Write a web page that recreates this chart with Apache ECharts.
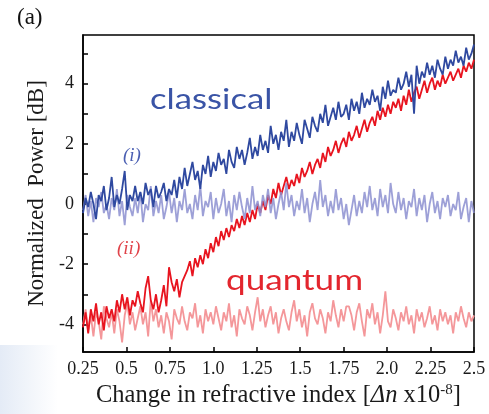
<!DOCTYPE html>
<html><head><meta charset="utf-8">
<script src="https://cdn.jsdelivr.net/npm/echarts@6/dist/echarts.min.js"></script>
<style>html,body{margin:0;padding:0;background:#fff}#c{width:489px;height:414px}</style>
</head><body><div id="c"></div>
<script>
// x sampling: Δn from 0.25 to 2.5 (x10^-8)
const xStart = 0.25, xStep = 0.015;
const xTicks = [0.25,0.5,0.75,1.0,1.25,1.5,1.75,2.0,2.25,2.5];
const yTickLabels = [-4,-2,0,2,4];
const yMinorTicks = [-4,-3,-2,-1,0,1,2,3,4,5];

// (i) classical signal, dark blue
const classicalSignal = [
-0.3,0.2,-0.1,0.4,0.0,-0.5,0.3,0.1,0.6,-0.2,
0.2,0.9,-0.1,0.3,0.0,0.5,1.1,-0.2,0.3,0.1,
0.6,0.1,0.4,0.0,0.7,0.3,0.5,-0.1,0.6,0.2,
0.4,0.7,0.1,0.5,0.3,0.8,0.2,0.9,0.5,1.2,
0.6,1.0,1.4,0.8,1.1,0.5,1.3,1.0,1.6,0.9,
1.4,1.1,1.7,1.3,1.5,1.0,1.8,1.4,1.2,1.9,
1.5,1.8,1.3,1.7,2.2,1.5,1.9,1.6,2.3,1.8,
2.1,1.7,2.6,2.0,2.3,1.8,2.4,2.1,2.8,1.9,
2.4,2.1,2.7,2.3,2.0,2.8,2.5,2.2,2.9,2.6,
2.4,3.0,2.7,3.3,2.6,2.9,3.2,2.8,3.4,2.9,
3.0,3.3,2.8,3.5,3.1,3.4,3.0,3.7,3.2,3.5,
3.3,3.8,3.4,3.6,3.1,3.9,3.5,4.1,3.6,3.8,
3.7,4.2,3.8,4.0,4.4,3.9,4.3,3.0,4.6,4.0,
4.4,4.2,4.7,4.3,4.6,4.2,4.8,4.5,4.3,4.9,
4.5,4.8,4.6,5.1,4.7,4.9,4.6,5.2,4.8,5.0,5.3
];
// classical reference, light blue
const classicalRef = [
-0.2,0.3,-0.4,0.1,-0.6,0.2,-0.1,0.4,-0.3,0.0,
-0.5,0.2,-0.2,0.5,-0.4,0.1,-0.7,0.3,-0.1,-0.4,
0.2,-0.3,0.4,-0.6,0.0,-0.2,0.6,-0.4,0.1,-0.3,
0.3,-0.5,-0.1,0.4,-0.3,0.2,-0.6,0.1,-0.2,0.5,
-0.3,0.0,-0.5,0.3,-0.2,0.6,-0.4,0.1,-0.1,0.4,
-0.5,0.2,-0.3,0.0,0.5,-0.4,0.1,-0.6,0.3,-0.2,
0.4,-0.1,-0.5,0.2,-0.3,0.6,-0.2,0.1,-0.4,0.3,
-0.1,0.5,-0.3,0.2,-0.5,0.0,0.4,-0.2,0.7,-0.1,
0.3,-0.4,0.1,-0.2,0.5,-0.3,0.2,-0.6,0.0,0.4,
-0.2,0.8,-0.1,0.3,-0.4,0.1,-0.3,0.5,-0.2,0.2,
-0.5,0.0,-0.7,-0.2,0.3,-0.4,0.1,-0.3,0.4,-0.1,
0.6,-0.2,0.2,-0.4,0.5,-0.1,0.3,-0.3,0.7,0.0,
-0.3,0.4,-0.2,0.2,-0.5,0.1,-0.1,0.5,-0.4,0.2,
-0.2,0.3,-0.6,0.0,0.4,-0.3,0.1,-0.5,0.2,-0.1,
0.3,-0.4,0.0,-0.2,0.4,-0.5,-0.1,0.2,-0.6,0.1,-0.3
];
// (ii) quantum signal, red
const quantumSignal = [
-4.1,-3.6,-4.3,-3.5,-3.9,-3.3,-4.0,-3.6,-4.2,-3.4,
-3.8,-3.5,-3.9,-3.2,-3.6,-3.0,-3.5,-3.1,-3.7,-3.2,
-3.4,-2.9,-3.3,-3.6,-2.8,-2.4,-3.2,-3.5,-3.0,-3.6,
-3.2,-2.7,-3.4,-2.1,-2.6,-2.9,-2.5,-3.1,-2.6,-2.4,
-2.2,-1.9,-2.4,-1.8,-2.1,-1.7,-2.0,-1.5,-1.8,-1.3,
-1.6,-1.1,-1.4,-0.9,-1.2,-0.8,-1.1,-0.7,-0.9,-0.5,
-0.8,-0.4,-0.7,-0.3,-0.6,-0.2,-0.5,0.0,-0.3,0.1,
-0.2,0.3,0.0,0.5,0.2,0.7,0.3,0.6,0.9,0.5,
0.8,0.6,1.0,0.7,1.2,0.9,1.1,1.4,1.0,1.3,
1.5,1.2,1.7,1.4,1.9,1.6,1.8,2.1,1.7,2.0,
2.2,1.9,2.4,2.1,2.3,2.6,2.2,2.5,2.8,2.4,
2.7,2.9,2.6,3.1,2.8,3.2,2.9,3.3,3.0,3.4,
3.2,3.5,3.1,3.6,3.3,3.8,3.4,3.7,3.9,3.5,
3.8,4.1,3.7,4.0,4.2,3.8,4.1,3.9,4.3,4.0,
4.2,4.4,4.1,4.3,4.5,4.2,4.6,4.4,4.7,4.5,4.8
];
// quantum reference, light red
const quantumRef = [
-4.0,-3.5,-4.2,-3.7,-4.4,-3.6,-3.9,-4.5,-3.4,-3.8,
-4.1,-3.6,-4.3,-3.5,-3.9,-4.6,-3.7,-3.3,-4.0,-3.6,
-4.2,-3.8,-3.4,-4.0,-3.6,-4.4,-3.2,-3.9,-3.5,-4.1,
-3.7,-4.3,-3.6,-3.9,-4.5,-3.5,-3.8,-4.0,-3.4,-3.9,
-4.2,-3.6,-3.8,-3.3,-4.1,-3.7,-4.3,-3.5,-3.9,-3.6,
-4.0,-3.4,-3.8,-4.2,-3.6,-3.9,-3.3,-4.1,-3.7,-4.4,
-3.5,-3.8,-4.0,-3.4,-3.7,-4.2,-3.6,-3.1,-3.9,-3.5,
-4.1,-3.7,-3.4,-4.0,-3.6,-4.3,-3.8,-3.5,-3.9,-4.2,
-3.6,-3.2,-3.9,-3.5,-4.1,-3.7,-4.4,-3.6,-3.3,-3.8,
-4.0,-3.5,-3.8,-4.3,-3.6,-3.9,-3.2,-3.7,-4.1,-3.5,
-3.9,-3.4,-3.4,-3.7,-4.2,-3.6,-3.3,-3.9,-4.4,-3.5,
-3.8,-3.3,-4.0,-3.6,-4.3,-3.7,-2.9,-3.9,-4.1,-3.5,
-3.8,-4.2,-3.6,-3.9,-3.4,-4.0,-3.7,-4.3,-3.5,-3.9,
-3.6,-4.1,-3.8,-3.4,-4.0,-3.7,-4.2,-3.5,-3.9,-3.6,
-4.0,-3.7,-4.3,-3.6,-3.9,-3.4,-3.8,-4.1,-3.6,-3.9,-3.7
];

function pairs(vals){ return vals.map((v,i)=>[+(xStart+i*xStep).toFixed(3), v]); }

const serif = '"Liberation Serif", "DejaVu Serif", serif';
const chart = echarts.init(document.getElementById('c'), null, {renderer:'canvas'});
const lineS = (name, vals, color, z, opacity) => ({
  name, type:'line', data: pairs(vals), showSymbol:false, symbol:'none', z,
  lineStyle:{color, width:1.8, opacity: opacity==null?1:opacity}, animation:false
});
chart.setOption({
  animation:false,
  backgroundColor:'#ffffff',
  grid:{left:83, right:15, top:35, bottom:62, show:true, borderColor:'#000', borderWidth:1.5, backgroundColor:'transparent'},
  xAxis:{
    type:'value', min:0.25, max:2.5, interval:0.25,
    name:'Change in refractive index [{it|Δn} x10{sup|-8}]',
    nameLocation:'middle', nameGap:24,
    nameTextStyle:{fontFamily:serif, fontSize:24.5, color:'#1a1a1a',
      rich:{it:{fontFamily:serif, fontStyle:'italic', fontSize:24.5, color:'#1a1a1a'},
            sup:{fontFamily:serif, fontSize:15, color:'#1a1a1a', verticalAlign:'top', padding:[0,0,10,0]}}},
    axisLine:{show:true, onZero:false, lineStyle:{color:'#000', width:1.5}},
    axisTick:{show:true, inside:true, length:5, lineStyle:{color:'#000', width:1.5}},
    axisLabel:{fontFamily:serif, fontSize:18, color:'#1a1a1a', margin:8, showMinLabel:true, showMaxLabel:true,
      formatter:v=>{ const t = xTicks.find(k=>Math.abs(k-v)<1e-6); if(t===undefined) return ''; return Number.isInteger(t)? t.toFixed(1) : String(t);} },
    splitLine:{show:false}
  },
  yAxis:{
    type:'value', min:-4.92, max:5.62,
    name:'Normalized  Power [dB]', nameLocation:'middle', nameGap:31, nameRotate:90,
    nameTextStyle:{fontFamily:serif, fontSize:23, color:'#1a1a1a'},
    axisLine:{show:true, onZero:false, lineStyle:{color:'#000', width:1.5}},
    axisTick:{show:true, inside:true, length:5, customValues:yMinorTicks, lineStyle:{color:'#000', width:1.5}},
    axisLabel:{fontFamily:serif, fontSize:18, color:'#1a1a1a', margin:9, customValues:yTickLabels},
    splitLine:{show:false}
  },
  graphic:[
    {type:'rect', left:0, top:345, z:-10, shape:{width:58, height:69},
      style:{fill:new echarts.graphic.LinearGradient(0,0,1,0,[{offset:0,color:'#e4ebf6'},{offset:1,color:'#ffffff'}])}},
    {type:'text', x:17, y:6, style:{text:'(a)', font:'23px "Liberation Serif"', fill:'#111', textVerticalAlign:'top', verticalAlign:'top'}},
    {type:'text', x:150, y:86, scaleX:1.24, style:{text:'classical', font:'28px Lato', fill:'#3a54a6', textVerticalAlign:'top', verticalAlign:'top'}},
    {type:'text', x:226, y:266, scaleX:1.21, style:{text:'quantum', font:'29px Lato', fill:'#e3262e', textVerticalAlign:'top', verticalAlign:'top'}},
    {type:'text', x:123, y:146, style:{text:'(i)', font:'italic 19px "Liberation Serif"', fill:'#4b5fb2', textVerticalAlign:'top', verticalAlign:'top'}},
    {type:'text', x:117, y:239, style:{text:'(ii)', font:'italic 19px "Liberation Serif"', fill:'#e0434a', textVerticalAlign:'top', verticalAlign:'top'}}
  ],
  series:[
    lineS('quantumRef', quantumRef, '#f4979a', 2),
    lineS('quantumSignal', quantumSignal, '#e8141f', 3),
    lineS('classicalRef', classicalRef, '#8c8fd0', 4, 0.85),
    lineS('classicalSignal', classicalSignal, '#2f49a0', 5)
  ]
});
</script></body></html>
